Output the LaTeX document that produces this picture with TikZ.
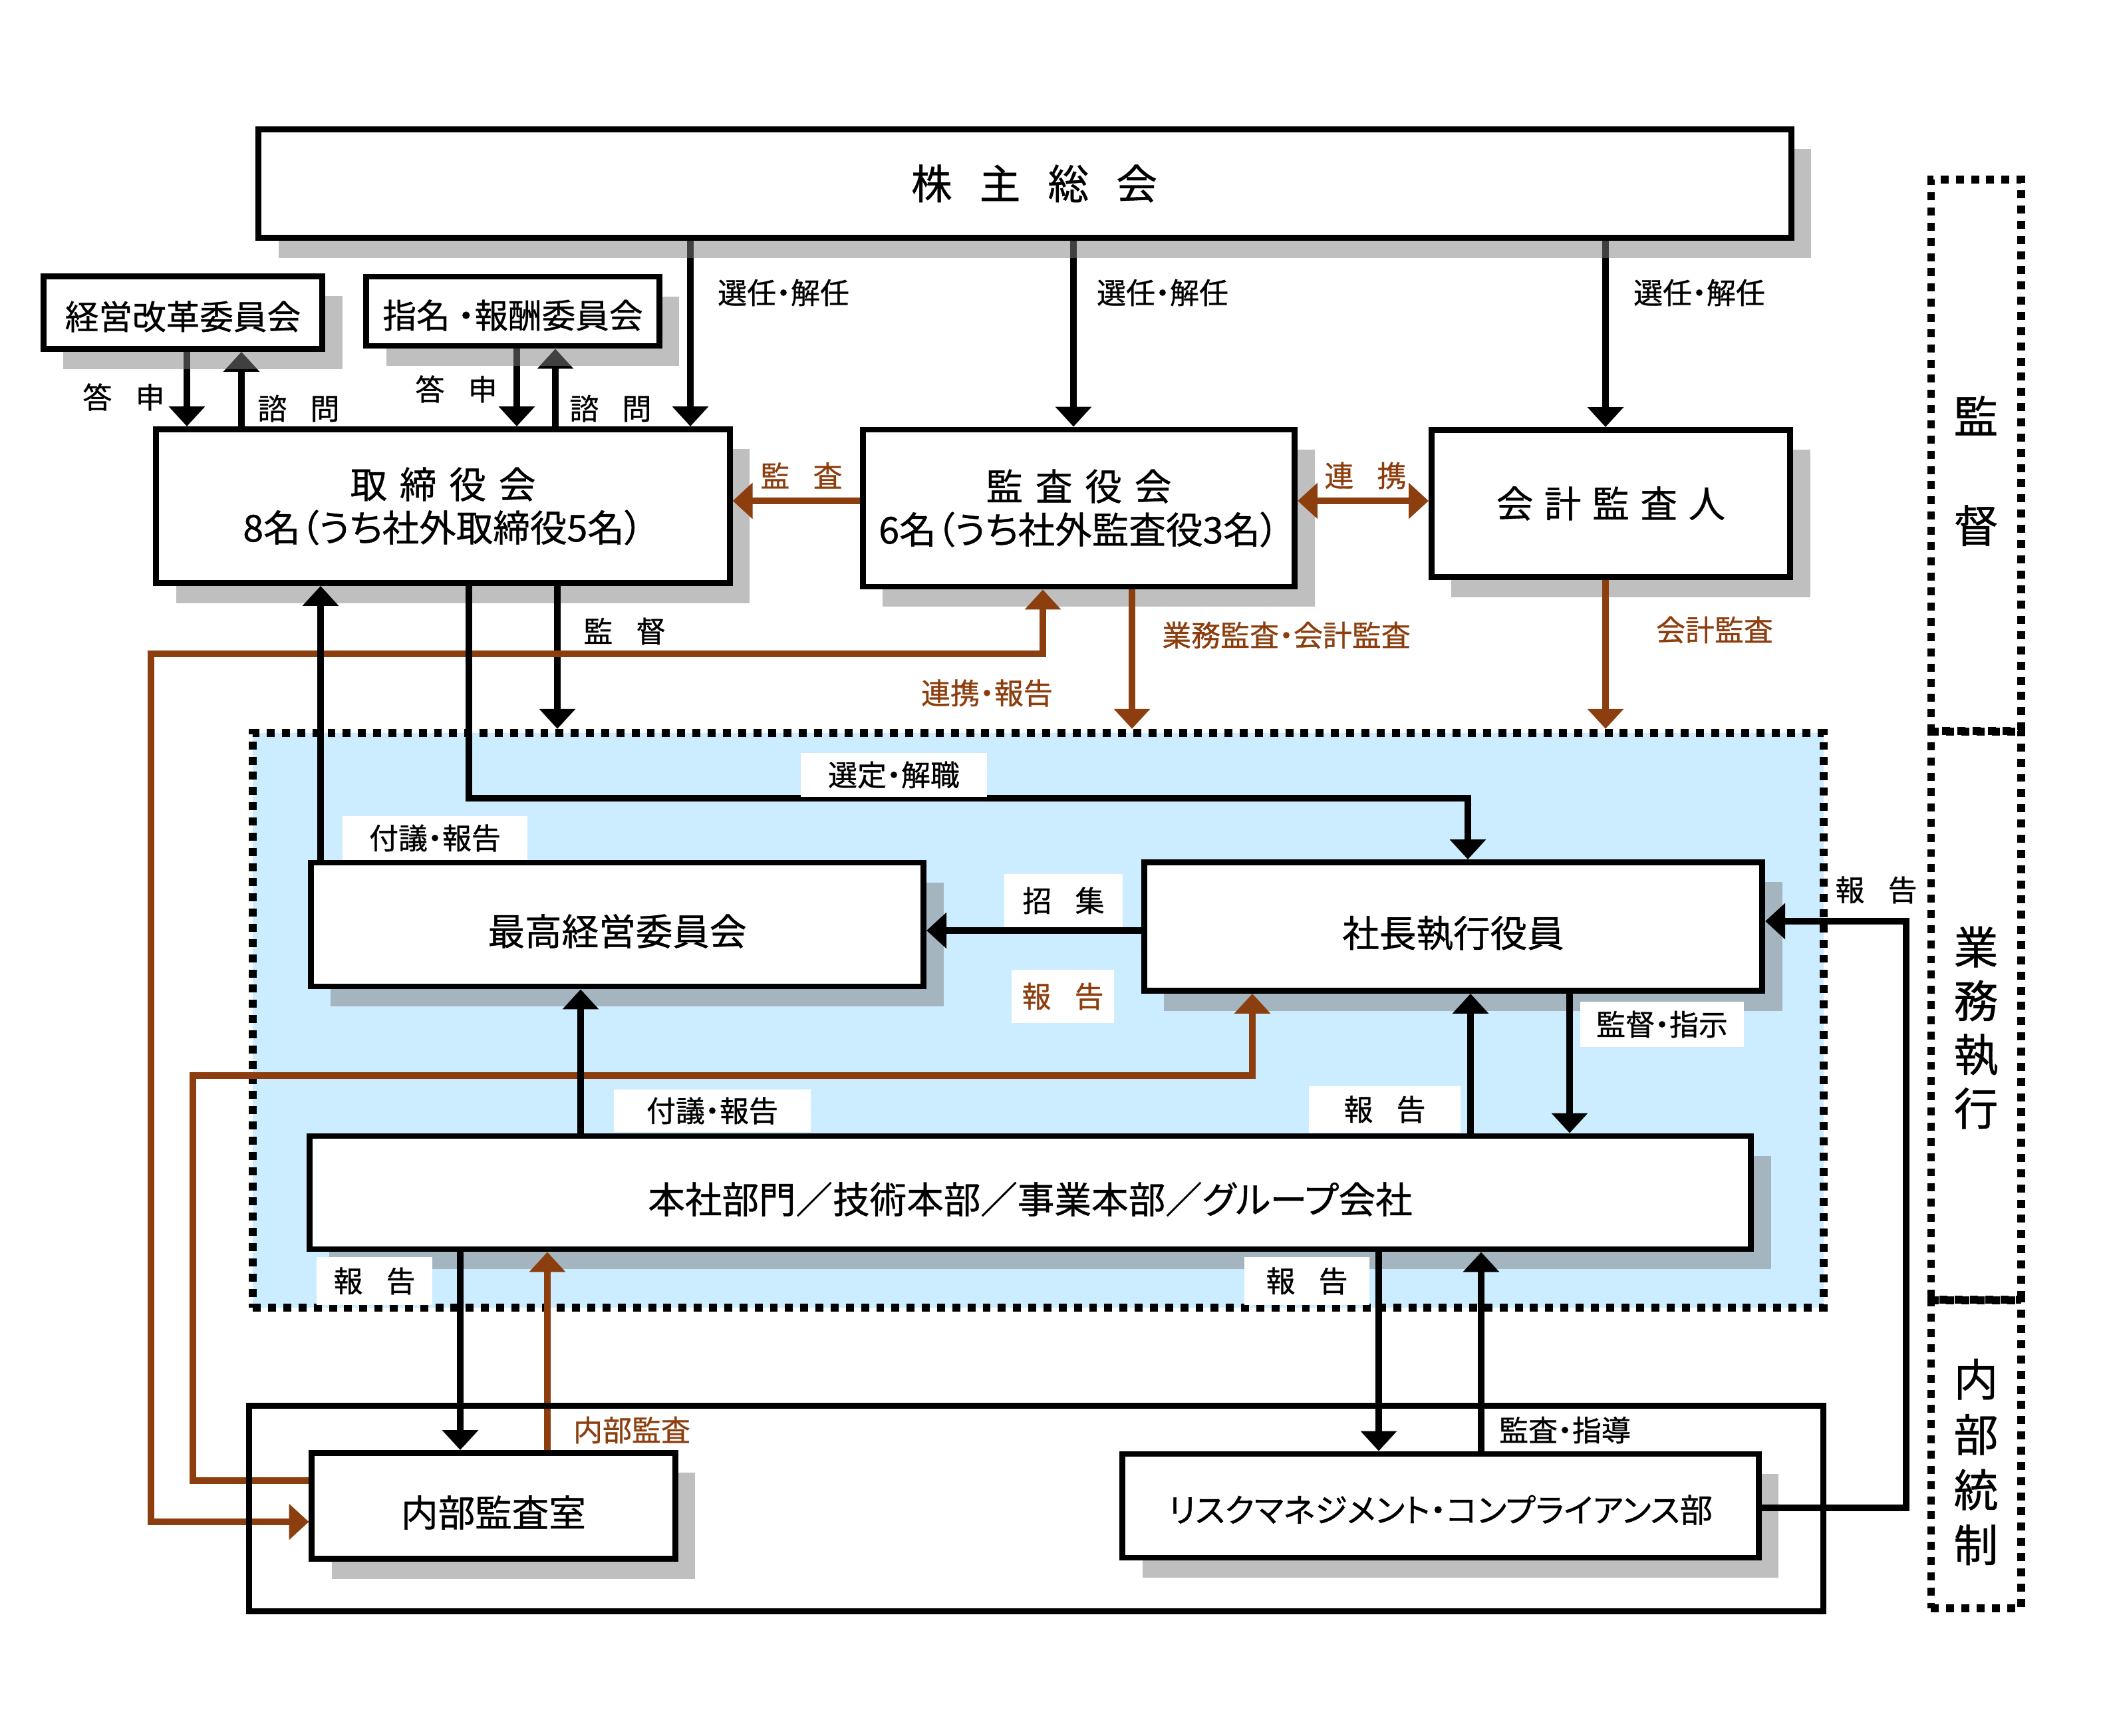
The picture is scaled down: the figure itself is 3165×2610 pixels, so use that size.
\documentclass[tikz,border=0pt]{standalone}
\usepackage{fontspec}
\setmainfont{Noto Sans CJK JP}[RawFeature=+palt, FakeBold=0.7]
\usetikzlibrary{arrows.meta,shadows}
\definecolor{brn}{RGB}{140,62,14}
\definecolor{lblue}{RGB}{204,236,255}
\pgfdeclarelayer{bg}
\pgfdeclarelayer{conn}
\pgfsetlayers{bg,conn,main}
\newcommand\jg[1][.8em]{\hspace{#1}}
\newcommand\lowr[2][0.1cm]{\raisebox{-#1}[\height][\depth]{#2}}
\begin{document}
\begin{tikzpicture}[x=0.01cm,y=-0.01cm,
  box/.style={draw, line width=2.5pt, fill=white, inner sep=0pt, align=center,
    drop shadow={shadow xshift=0.3cm, shadow yshift=-0.3cm, opacity=0.5, fill=black!50},
    font=\fontsize{15.8}{18.5}\selectfont},
  sbox/.style={box, font=\fontsize{14.4}{17}\selectfont},
  tip/.tip={Triangle[width=15pt,length=8.5pt]},
  arr/.style={line width=2.8pt, -tip},
  barr/.style={line width=3pt, draw=brn, -tip, tip/.tip={Triangle[width=15pt,length=8.5pt,fill=brn]}},
  lbl/.style={font=\fontsize{12.5}{15}\selectfont, inner sep=0pt},
  wlbl/.style={lbl, fill=white},
  dashbox/.style={draw, line width=3.4pt, dash pattern=on 3.4pt off 3.1pt, inner sep=0pt},
  coltext/.style={font=\fontsize{19}{23}\selectfont, align=center, inner sep=0pt}
]
\useasboundingbox (0,0) rectangle (3165,2610);

% execution region (blue, dashed)
\begin{pgfonlayer}{bg}
\node[dashbox, fill=lblue, minimum width=23.60cm, minimum height=8.64cm] (exec) at (1561,1534) {};
\end{pgfonlayer}

% right column
\node[dashbox, minimum width=1.35cm, minimum height=8.30cm] (c1) at (2971,685) {};
\node[dashbox, minimum width=1.35cm, minimum height=8.55cm] (c2) at (2971,1527) {};
\node[dashbox, minimum width=1.35cm, minimum height=4.63cm] (c3) at (2971,2186) {};
\node[coltext, font=\fontsize{19}{46.8}\selectfont] (t1) at (2971,708) {監\\督};
\node[coltext] (t2) at (2971,1545) {業\\務\\執\\行};
\node[coltext, font=\fontsize{19}{23.6}\selectfont] (t3) at (2971,2198) {内\\部\\統\\制};

% boxes
\node[box, minimum width=23.03cm, minimum height=1.63cm, font=\fontsize{17.5}{21}\selectfont] (share) at (1541,276) {\hspace*{0.28cm}株\jg[.67em]主\jg[.67em]総\jg[.67em]会};
\node[sbox, minimum width=4.19cm, minimum height=1.09cm] (keiei) at (275,470) {\lowr[0.06cm]{経営改革委員会}};
\node[sbox, minimum width=4.40cm, minimum height=1.04cm] (shimei) at (771,468) {\lowr[0.06cm]{指名 ・報酬委員会}};
\node[box, minimum width=8.62cm, minimum height=2.31cm] (board) at (666,761) {取\jg[.34em]締\jg[.34em]役\jg[.34em]会\\8名（うち社外取締役5名）};
\node[box, minimum width=6.49cm, minimum height=2.36cm] (kansa) at (1622,764) {監\jg[.34em]査\jg[.34em]役\jg[.34em]会\\6名（うち社外監査役3名）};
\node[box, minimum width=5.39cm, minimum height=2.21cm] (kaikei) at (2422,757) {会\jg[.3em]計\jg[.3em]監\jg[.3em]査\jg[.3em]人};
\node[box, minimum width=9.21cm, minimum height=1.86cm] (saiko) at (928,1390) {\lowr{最高経営委員会}};
\node[box, minimum width=9.29cm, minimum height=1.93cm] (shacho) at (2185,1393) {\lowr{社長執行役員}};
\node[box, minimum width=21.66cm, minimum height=1.70cm] (honsha) at (1549,1793) {\lowr{本社部門／技術本部／事業本部／グループ会社}};
\node[box, minimum width=5.46cm, minimum height=1.59cm] (naibu) at (742,2264) {\lowr{内部監査室}};
\node[box, minimum width=9.56cm, minimum height=1.56cm, font=\fontsize{14}{17}\selectfont] (risk) at (2166,2264) {\lowr[0.06cm]{リスクマネジメント・コンプライアンス部}};

% top connectors (under shadows)
\begin{pgfonlayer}{conn}
\draw[arr] (1038,0 |- share.south) -- (1038,0 |- board.north);
\draw[arr] (1614,0 |- share.south) -- (1614,0 |- kansa.north);
\draw[arr] (2414,0 |- share.south) -- (2414,0 |- kaikei.north);
\draw[arr] (281,0 |- keiei.south) -- (281,0 |- board.north);
\draw[arr] (363,0 |- board.north) -- (363,0 |- keiei.south);
\draw[arr] (777,0 |- shimei.south) -- (777,0 |- board.north);
\draw[arr] (835,0 |- board.north) -- (835,0 |- shimei.south);
\end{pgfonlayer}

% other connectors
\draw[barr] (kansa.west |- 0,753) -- (board.east |- 0,753);
\draw[barr, tip-tip] (kansa.east |- 0,753) -- (kaikei.west |- 0,753);
\draw[arr] (838,0 |- board.south) -- (838,0 |- exec.north);
\draw[barr] (1702,0 |- kansa.south) -- (1702,0 |- exec.north);
\draw[barr] (2414,0 |- kaikei.south) -- (2414,0 |- exec.north);
\draw[barr, tip-tip] (1568,0 |- kansa.south) -- (1568,983) -- (227,983) -- (227,2288) -- (naibu.west |- 0,2288);
\draw[arr] (482,0 |- saiko.north) -- (482,0 |- board.south);
\draw[arr] (705,0 |- board.south) -- (705,1200) -- (2207,1200) -- (2207,0 |- shacho.north);
\draw[arr] (shacho.west |- 0,1399) -- (saiko.east |- 0,1399);
\draw[barr] (naibu.west |- 0,2226) -- (290,2226) -- (290,1617) -- (1883,1617) -- (1883,0 |- shacho.south);
\draw[arr] (873,0 |- honsha.north) -- (873,0 |- saiko.south);
\draw[arr] (2211,0 |- honsha.north) -- (2211,0 |- shacho.south);
\draw[arr] (2360,0 |- shacho.south) -- (2360,0 |- honsha.north);
\draw[arr] (risk.east |- 0,2267) -- (2866,2267) -- (2866,1385) -- (shacho.east |- 0,1385);
\draw[arr] (692,0 |- honsha.south) -- (692,0 |- naibu.north);
\draw[barr] (823,0 |- naibu.north) -- (823,0 |- honsha.south);
\draw[arr] (2073,0 |- honsha.south) -- (2073,0 |- risk.north);
\draw[arr] (2227,0 |- risk.north) -- (2227,0 |- honsha.south);

% internal control frame
\node[draw, line width=2.6pt, minimum width=23.66cm, minimum height=3.08cm] (ic) at (1558,2268) {};

% labels
\node[lbl] (l1) at (1178,440) {選任・解任};
\node[lbl] (l2) at (1748,440) {選任・解任};
\node[lbl] (l3) at (2555,440) {選任・解任};
\node[lbl] (l4) at (186,597) {答\jg 申};
\node[lbl] (l5) at (449,614) {諮\jg 問};
\node[lbl] (l6) at (686,585) {答\jg 申};
\node[lbl] (l7) at (918,614) {諮\jg 問};
\node[lbl, text=brn] (l8) at (1205,715) {監\jg 査};
\node[lbl, text=brn] (l9) at (2053,715) {連\jg 携};
\node[lbl] (l10) at (939,949) {監\jg 督};
\node[lbl, text=brn] (l11) at (1934,955) {業務監査・会計監査};
\node[lbl, text=brn] (l12) at (2578,947) {会計監査};
\node[lbl, text=brn] (l13) at (1484,1042) {連携・報告};
\node[wlbl, minimum width=2.79cm, minimum height=0.65cm] (l14) at (1344,1165) {選定・解職};
\node[wlbl, minimum width=2.78cm, minimum height=0.65cm] (l15) at (654,1260) {付議・報告};
\node[wlbl, minimum width=1.78cm, minimum height=0.79cm] (l16) at (1599,1354) {招\jg 集};
\node[wlbl, text=brn, minimum width=1.53cm, minimum height=0.79cm] (l17) at (1598,1498) {報\jg 告};
\node[wlbl, minimum width=2.95cm, minimum height=0.63cm] (l18) at (1071,1670) {付議・報告};
\node[wlbl, minimum width=2.28cm, minimum height=0.69cm] (l19) at (2082,1668) {報\jg 告};
\node[wlbl, minimum width=2.46cm, minimum height=0.68cm] (l20) at (2499,1540) {監督・指示};
\node[lbl] (l21) at (2821,1338) {報\jg 告};
\node[wlbl, minimum width=1.74cm, minimum height=0.71cm] (l22) at (563,1926) {報\jg 告};
\node[wlbl, minimum width=1.87cm, minimum height=0.71cm] (l23) at (1965,1926) {報\jg 告};
\node[lbl, text=brn] (l24) at (950,2150) {内部監査};
\node[lbl] (l25) at (2353,2150) {監査・指導};
\end{tikzpicture}
\end{document}
